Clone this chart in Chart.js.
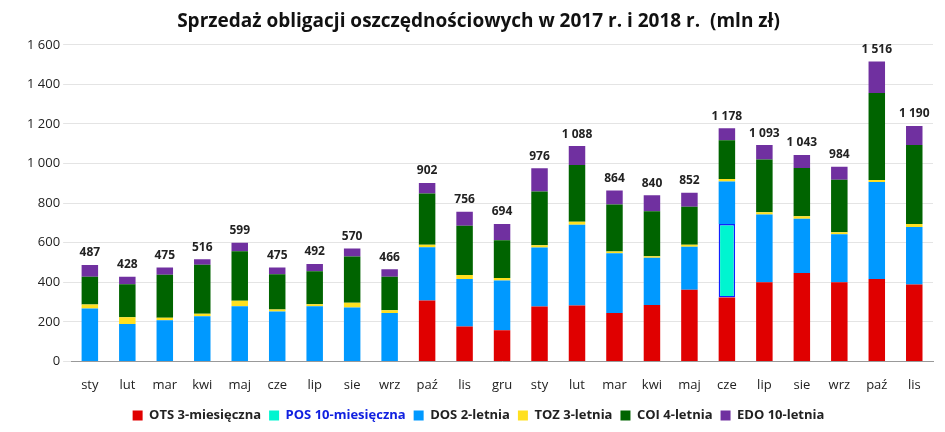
<!DOCTYPE html>
<html><head><meta charset="utf-8">
<script src="https://cdn.jsdelivr.net/npm/chart.js@4"></script>
<style>html,body{margin:0;padding:0;background:#fff}#w{width:945px;height:432px}</style>
</head><body><div id="w"><canvas id="c"></canvas></div>
<script>
const categories=["sty","lut","mar","kwi","maj","cze","lip","sie","wrz","paź","lis","gru","sty","lut","mar","kwi","maj","cze","lip","sie","wrz","paź","lis"];
const OTS=[0,0,0,0,0,0,0,0,0,308,177,157,277,282,245,285,362,323,400,447,400,416,388];
const POS=[0,0,0,0,0,0,0,0,0,0,0,0,0,0,0,0,0,372,0,0,0,0,0];
const DOS=[267,189,208,228,279,252,279,272,244,269,239,252,299,408,301,239,217,214,342,274,243,491,291];
const TOZ=[20,34,12,13,28,10,10,25,15,13,21,12,11,16,10,8,10,13,12,13,10,10,16];
const COI=[141,167,218,248,250,179,167,233,169,258,248,191,271,286,237,227,192,195,266,243,265,439,398];
const EDO=[59,38,37,27,42,34,36,40,38,54,71,82,118,96,71,81,71,61,73,66,66,160,97];
const totals=[487,428,475,516,599,475,492,570,466,902,756,694,976,1088,864,840,852,1178,1093,1043,984,1516,1190];
const fmt=v=>String(v).replace(/\B(?=(\d{3})+(?!\d))/g,' ');
const F='"Open Sans", sans-serif';
const mk=(label,data,c,b)=>({label,data,backgroundColor:c,borderColor:b||c,borderWidth:b?1.5:0,borderSkipped:false,barPercentage:0.44,categoryPercentage:1});
const totalsPlugin={id:'tot',afterDatasetsDraw(ch){const ctx=ch.ctx;const meta=ch.getDatasetMeta(5);ctx.save();ctx.font='bold 12px '+F;ctx.fillStyle='#222';ctx.textAlign='center';ctx.textBaseline='bottom';meta.data.forEach((b,i)=>{ctx.fillText(fmt(totals[i]),b.x,ch.scales.y.getPixelForValue(totals[i])-6);});ctx.restore();}};
new Chart(document.getElementById('c'),{type:'bar',
data:{labels:categories,datasets:[mk('OTS 3-miesięczna',OTS,'#e00000'),mk('POS 10-miesięczna',POS,'#00f5d0','#1020ff'),mk('DOS 2-letnia',DOS,'#0099ff'),mk('TOZ 3-letnia',TOZ,'#ffe020'),mk('COI 4-letnia',COI,'#006400'),mk('EDO 10-letnia',EDO,'#7030a0')]},
options:{responsive:true,maintainAspectRatio:false,animation:false,
layout:{padding:{left:24,right:12,top:8,bottom:0}},
plugins:{title:{display:true,text:'Sprzedaż obligacji oszczędnościowych w 2017 r. i 2018 r.  (mln zł)',font:{family:F,size:19,weight:'bold'},color:'#111',padding:{top:2,bottom:12}},
legend:{position:'bottom',labels:{boxWidth:10,boxHeight:10,font:{family:F,size:13,weight:'bold'},padding:8,
generateLabels(ch){const l=Chart.defaults.plugins.legend.labels.generateLabels(ch);l.forEach(x=>{x.fontColor=x.text.startsWith('POS')?'#1020e0':'#222';x.lineWidth=0;});return l;}}},
tooltip:{enabled:false}},
scales:{x:{stacked:true,grid:{display:false},border:{color:'#999'},ticks:{padding:8,font:{family:F,size:13},color:'#222'}},
y:{stacked:true,min:0,max:1600,ticks:{stepSize:200,callback:v=>fmt(v),font:{family:F,size:13},color:'#222'},grid:{color:'#e4e4e4'},border:{display:false}}}},
plugins:[totalsPlugin]});
</script></body></html>
